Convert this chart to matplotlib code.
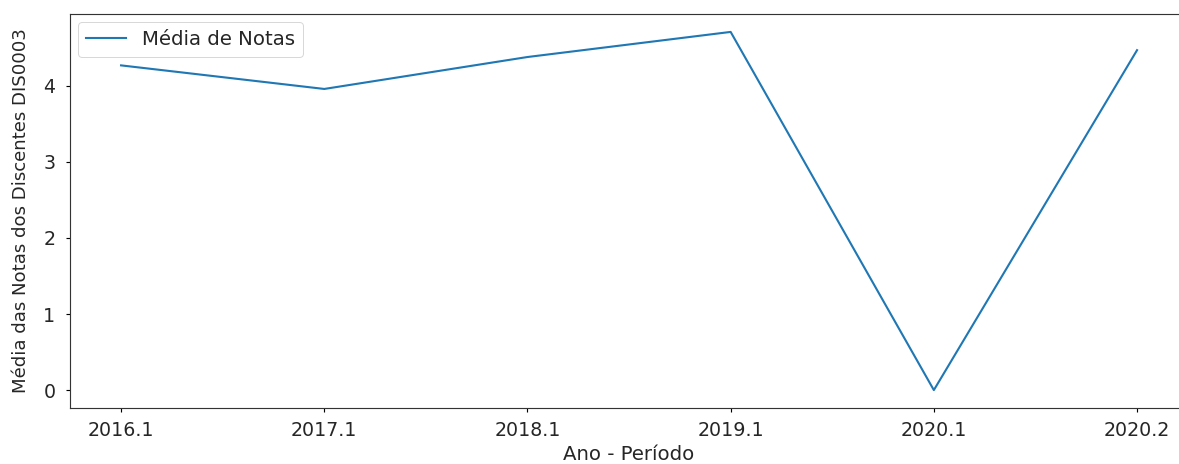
import matplotlib
matplotlib.use("Agg")
import matplotlib.pyplot as plt

periodos = ["2016.1", "2017.1", "2018.1", "2019.1", "2020.1", "2020.2"]
medias = [4.27, 3.96, 4.38, 4.71, 0.0, 4.47]

# figura ampliada (dpi alto) como a referencia
dpi = 137
fig, ax = plt.subplots(figsize=(1179 / dpi, 464 / dpi), dpi=dpi)
fig.subplots_adjust(left=0.0596, right=1.0075, top=0.9698, bottom=0.1207)

ax.plot(periodos, medias, color="#1f77b4", linewidth=1.1, label="Média de Notas")
ax.set_xlabel("Ano - Período", color="#262626", labelpad=2.5, fontsize=10.4)
ax.set_ylabel("Média das Notas dos Discentes DIS0003", color="#262626",
              labelpad=7, fontsize=9.5)
ax.tick_params(width=0.6, length=2.3, labelcolor="#262626")
ax.tick_params(axis="x", pad=4.5)
ax.tick_params(axis="y", pad=5.5)
for s in ax.spines.values():
    s.set_linewidth(0.6)
    s.set_color("#333333")
leg = ax.legend(loc="upper left", borderaxespad=0.4, fontsize=10.4)
leg.get_frame().set_linewidth(0.5)
for t in leg.get_texts():
    t.set_color("#262626")

fig.savefig("out.png", dpi=dpi)
